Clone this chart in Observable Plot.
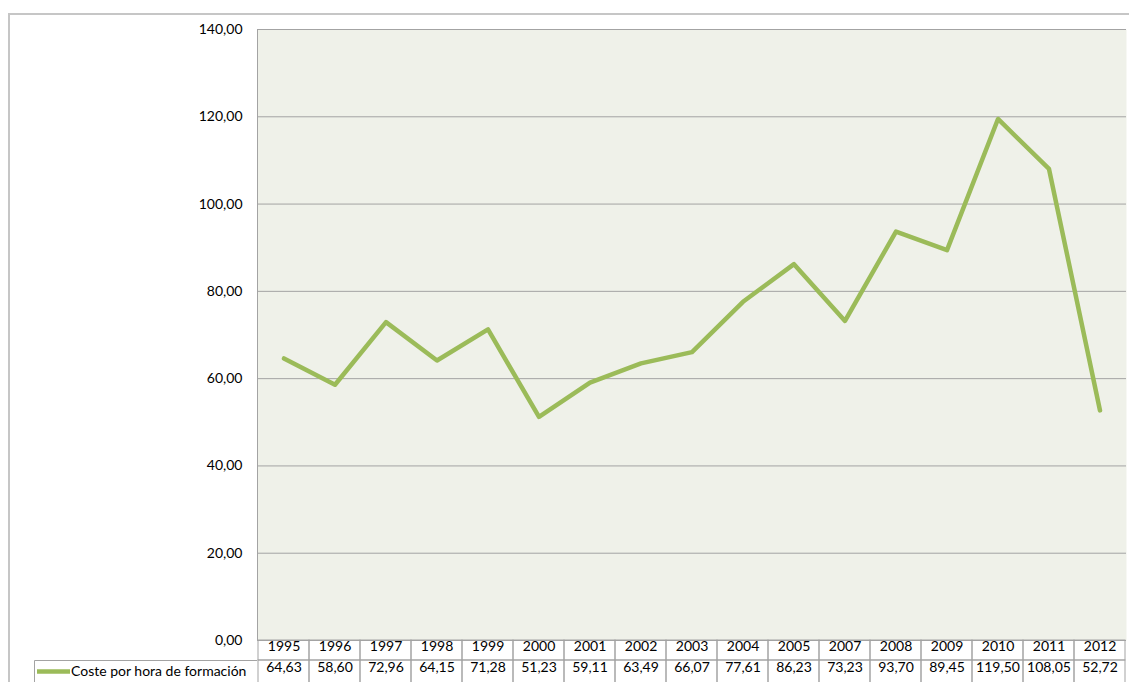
<!DOCTYPE html>
<html>
<head>
<meta charset="utf-8">
<script src="https://cdn.jsdelivr.net/npm/d3@7"></script>
<script src="https://cdn.jsdelivr.net/npm/@observablehq/plot@0.6"></script>
<style>
  html, body { margin: 0; padding: 0; background: #fff; }
  #wrap { position: relative; width: 1129px; height: 682px; overflow: hidden; }
  #outer { position: absolute; left: 8px; top: 13px; width: 1121px; height: 669px;
           border-top: 2px solid #C6C6C6; border-left: 2px solid #C6C6C6; pointer-events: none; box-sizing: border-box; }
  svg { display: block; }
</style>
</head>
<body>
<div id="wrap"><div id="outer"></div></div>
<script>
const years = ["1995","1996","1997","1998","1999","2000","2001","2002","2003","2004","2005","2007","2008","2009","2010","2011","2012"];
const values = [64.63,58.60,72.96,64.15,71.28,51.23,59.11,63.49,66.07,77.61,86.23,73.23,93.70,89.45,119.50,108.05,52.72];
const yTicks = [0,20,40,60,80,100,120,140];
const seriesName = "Coste por hora de formación";

const data = years.map((y, i) => ({year: y, value: values[i]}));
const fmt = d => d.toFixed(2).replace(".", ",");
const green = "#9BBB59";
const gridColor = "#A3A3A3";
const fs = 14;

const plot = Plot.plot({
  width: 1129,
  height: 682,
  marginLeft: 257,
  marginRight: 3,
  marginTop: 29,
  marginBottom: 42,
  style: {fontFamily: "Lato, 'Open Sans', sans-serif", fontSize: fs + "px", color: "#000", background: "transparent", overflow: "visible"},
  x: {domain: years, padding: 0, axis: null},
  y: {domain: [0, 140], axis: null},
  marks: [
    Plot.frame({fill: "#EFF1E9", stroke: null}),
    Plot.gridY(yTicks, {stroke: gridColor, strokeOpacity: 1}),
    Plot.frame({anchor: "left", stroke: gridColor}),
    Plot.axisY(yTicks, {label: null, tickSize: 0, tickPadding: 15, tickFormat: fmt, fontSize: fs, fill: "#000"}),
    Plot.barY(years, {x: d => d, y1: 0, y2: 0, insetTop: 0, insetBottom: -20, fill: "none", stroke: gridColor}),
    Plot.barY(years, {x: d => d, y1: 0, y2: 0, insetTop: 20, insetBottom: -45, fill: "none", stroke: gridColor}),
    Plot.text(years, {x: d => d, frameAnchor: "bottom", dy: 10.5, text: d => d, fontSize: fs, fill: "#000"}),
    Plot.text(data, {x: "year", frameAnchor: "bottom", dy: 31.5, text: d => fmt(d.value), fontSize: fs, fill: "#000"}),
    Plot.line(data, {x: "year", y: "value", stroke: green, strokeWidth: 4.5, strokeLinejoin: "round", strokeLinecap: "round"})
  ]
});

// legend cell in the data table
const svg = d3.select(plot);
const xs = plot.scale("x");
const left = xs.range[0];
const ys = plot.scale("y");
const bottom = ys.apply(0);
const g = svg.append("g");
g.append("path")
  .attr("d", `M34.5,${bottom + 45}V${bottom + 20.5}H${left}`)
  .attr("fill", "none").attr("stroke", gridColor);
g.append("line")
  .attr("x1", 37).attr("x2", 70).attr("y1", bottom + 31.5).attr("y2", bottom + 31.5)
  .attr("stroke", green).attr("stroke-width", 4.5);
g.append("text")
  .attr("x", 71).attr("y", bottom + 31.5).attr("dy", "0.32em")
  .attr("text-anchor", "start")
  .attr("font-size", fs).attr("fill", "#000")
  .text(seriesName);

document.getElementById("wrap").prepend(plot);
</script>
</body>
</html>
